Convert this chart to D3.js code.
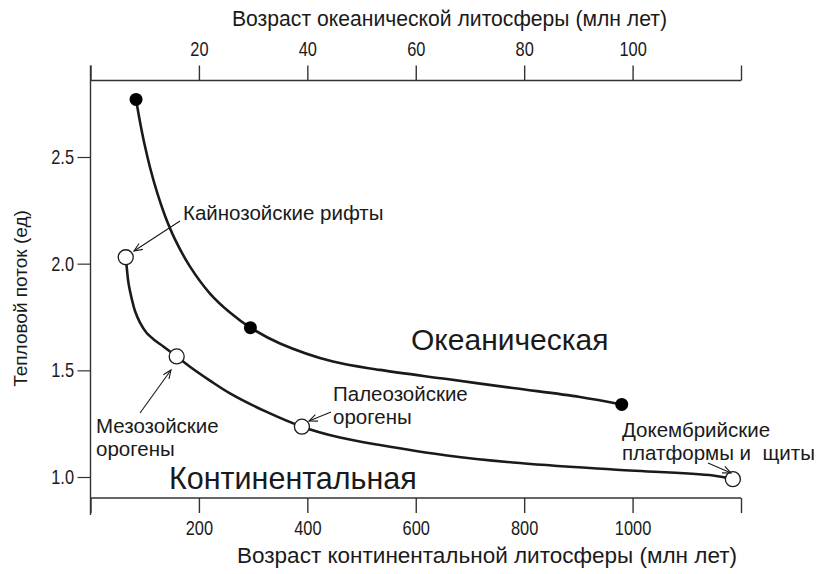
<!DOCTYPE html>
<html>
<head>
<meta charset="utf-8">
<script src="https://cdn.jsdelivr.net/npm/d3@7"></script>
<style>
  html, body { margin: 0; padding: 0; background: #fff; }
  svg { display: block; }
  text { font-family: "Liberation Sans", Arial, sans-serif; }
  .note { white-space: pre; }
</style>
</head>
<body>
<script>
// Heat flow versus lithosphere age: oceanic (top axis) and continental (bottom axis)

// Marker points
const oceanicAge = [8.4, 29.5, 98];            // млн лет, top axis
const oceanicFlow = [2.77, 1.70, 1.34];
const continentalAge = [65, 159, 390, 1185];   // млн лет, bottom axis
const continentalFlow = [2.03, 1.565, 1.236, 0.99];

// Traced smooth curves through the markers
const oceanicCurveAge = [8.4, 8.76, 9.32, 10.05, 10.98, 12.27, 13.74, 15.59, 18.36, 22.04, 25.73, 29.5, 34.96, 44.73, 53.4, 65.76, 77.94, 90.3, 98];
const oceanicCurveFlow = [2.77, 2.717, 2.640, 2.550, 2.451, 2.335, 2.225, 2.114, 1.986, 1.860, 1.771, 1.70, 1.626, 1.541, 1.502, 1.459, 1.417, 1.375, 1.34];
const continentalCurveAge = [65, 66.4, 70.1, 76.6, 82.1, 91.3, 103.7, 119.0, 134.3, 159, 183.5, 220.4, 257.3, 325, 390, 460.3, 534, 657.6, 779.4, 963.9, 1148.4, 1185];
const continentalCurveFlow = [2.03, 1.994, 1.909, 1.830, 1.778, 1.724, 1.675, 1.640, 1.612, 1.565, 1.517, 1.452, 1.392, 1.305, 1.236, 1.185, 1.150, 1.101, 1.068, 1.035, 1.007, 0.99];

// Axis ticks
const topTicks = [0, 20, 40, 60, 80, 100, 120];
const bottomTicks = [0, 200, 400, 600, 800, 1000, 1200];
const yTicks = [1.0, 1.5, 2.0, 2.5];

// Labels
const topTitle = "Возраст океанической литосферы (млн лет)";
const bottomTitle = "Возраст континентальной литосферы (млн лет)";
const yTitle = "Тепловой поток (ед)";

const W = 820, H = 574;
const plotL = 90.5, plotR = 741, plotT = 80.5, plotB = 498;
const narrow = 0.82;   // horizontal squeeze for condensed axis lettering

const svg = d3.select("body").append("svg").attr("width", W).attr("height", H);

const xOce = d3.scaleLinear().domain([0, 120]).range([plotL, plotR]);
const xCon = d3.scaleLinear().domain([0, 1200]).range([plotL, plotR]);
const y = d3.scaleLinear().domain([1.0, 2.5]).range([477, 157]);

const ink = "#1a1a1a";

// Frame lines
const frame = svg.append("g").attr("stroke", "#333").attr("stroke-width", 1.4).attr("fill", "none");
frame.append("line").attr("x1", plotL).attr("x2", plotR).attr("y1", plotT).attr("y2", plotT);
frame.append("line").attr("x1", plotL).attr("x2", plotR).attr("y1", plotB).attr("y2", plotB);
frame.append("line").attr("x1", plotL).attr("x2", plotL).attr("y1", plotT - 15).attr("y2", plotB + 17);

// Top axis (oceanic age)
const gTop = svg.append("g").attr("transform", `translate(0,${plotT})`)
  .call(d3.axisTop(xOce).tickValues(topTicks).tickSize(15).tickPadding(10)
    .tickFormat(d => (d === 0 || d === 120) ? "" : d));
gTop.select(".domain").remove();
gTop.selectAll("line").attr("stroke", "#333").attr("stroke-width", 1.4);
gTop.selectAll("text").attr("font-size", 20).attr("fill", ink)
  .attr("font-family", "Liberation Sans, Arial, sans-serif").attr("transform", `scale(${narrow},1)`);

// Bottom axis (continental age)
const gBot = svg.append("g").attr("transform", `translate(0,${plotB})`)
  .call(d3.axisBottom(xCon).tickValues(bottomTicks).tickSize(15).tickPadding(8)
    .tickFormat(d => (d === 0 || d === 1200) ? "" : d));
gBot.select(".domain").remove();
gBot.selectAll("line").attr("stroke", "#333").attr("stroke-width", 1.4);
gBot.selectAll("text").attr("font-size", 20).attr("fill", ink)
  .attr("font-family", "Liberation Sans, Arial, sans-serif").attr("transform", `scale(${narrow},1)`);

// Left axis (heat flow)
const gLeft = svg.append("g").attr("transform", `translate(${plotL},0)`)
  .call(d3.axisLeft(y).tickValues(yTicks).tickSize(13).tickPadding(4).tickFormat(d3.format(".1f")));
gLeft.select(".domain").remove();
gLeft.selectAll("line").attr("stroke", "#333").attr("stroke-width", 1.2);
gLeft.selectAll("text").attr("font-size", 20).attr("fill", ink)
  .attr("font-family", "Liberation Sans, Arial, sans-serif")
  .attr("x", -16.5 / narrow).attr("transform", `scale(${narrow},1)`);

// Axis titles
svg.append("text").attr("x", 449.5).attr("y", 26)
  .attr("text-anchor", "middle").attr("font-size", 22).attr("fill", ink)
  .attr("textLength", 435).attr("lengthAdjust", "spacingAndGlyphs").text(topTitle);
svg.append("text").attr("x", 487).attr("y", 563)
  .attr("text-anchor", "middle").attr("font-size", 22).attr("fill", ink)
  .attr("textLength", 500).attr("lengthAdjust", "spacingAndGlyphs").text(bottomTitle);
svg.append("text")
  .attr("transform", "translate(27,298.5) rotate(-90)")
  .attr("text-anchor", "middle").attr("font-size", 19).attr("fill", ink).text(yTitle);

// Curves
const line = (xs, data) => d3.line().x(d => xs(d[0])).y(d => y(d[1])).curve(d3.curveCatmullRom.alpha(0.5))(data);
const oceanicCurve = d3.zip(oceanicCurveAge, oceanicCurveFlow);
const continentalCurve = d3.zip(continentalCurveAge, continentalCurveFlow);
svg.append("path").attr("d", line(xOce, oceanicCurve))
  .attr("fill", "none").attr("stroke", ink).attr("stroke-width", 2.6);
svg.append("path").attr("d", line(xCon, continentalCurve))
  .attr("fill", "none").attr("stroke", ink).attr("stroke-width", 2.6);

// Markers
svg.append("g").selectAll("circle").data(d3.zip(oceanicAge, oceanicFlow)).join("circle")
  .attr("cx", d => xOce(d[0])).attr("cy", d => y(d[1])).attr("r", 6.5).attr("fill", "#000");
svg.append("g").selectAll("circle").data(d3.zip(continentalAge, continentalFlow)).join("circle")
  .attr("cx", d => xCon(d[0])).attr("cy", d => y(d[1])).attr("r", 7.5)
  .attr("fill", "#fff").attr("stroke", ink).attr("stroke-width", 1.3);

// Region labels
svg.append("text").attr("x", 411).attr("y", 350)
  .attr("font-size", 30).attr("fill", ink).text("Океаническая");
svg.append("text").attr("x", 169).attr("y", 489)
  .attr("font-size", 30.5).attr("fill", ink).text("Континентальная");

// Annotations with arrows
const notes = [
  { lines: ["Кайнозойские рифты"], x: 183, y: 220, from: [180, 221], to: [134, 251] },
  { lines: ["Мезозойские", "орогены"], x: 96, y: 433, from: [140, 413], to: [171, 370] },
  { lines: ["Палеозойские", "орогены"], x: 333, y: 401, from: [331, 412], to: [309, 421] },
  { lines: ["Докембрийские", "платформы и  щиты"], x: 622, y: 437, from: [708, 463], to: [731, 473] }
];
const gn = svg.append("g");
notes.forEach(n => {
  const t = gn.append("text").attr("class", "note").attr("font-size", 20.5).attr("fill", ink)
    .attr("x", n.x).attr("y", n.y);
  n.lines.forEach((s, i) => t.append("tspan").attr("x", n.x).attr("dy", i ? 23 : 0).text(s));
  const [x1, y1] = n.from, [x2, y2] = n.to;
  gn.append("line").attr("x1", x1).attr("y1", y1).attr("x2", x2).attr("y2", y2)
    .attr("stroke", ink).attr("stroke-width", 1.1);
  const a = Math.atan2(y2 - y1, x2 - x1), L = 9, s = 0.4;
  gn.append("path")
    .attr("d", `M${x2 - L * Math.cos(a - s)},${y2 - L * Math.sin(a - s)}L${x2},${y2}L${x2 - L * Math.cos(a + s)},${y2 - L * Math.sin(a + s)}`)
    .attr("fill", "none").attr("stroke", ink).attr("stroke-width", 1.1);
});
</script>
</body>
</html>
